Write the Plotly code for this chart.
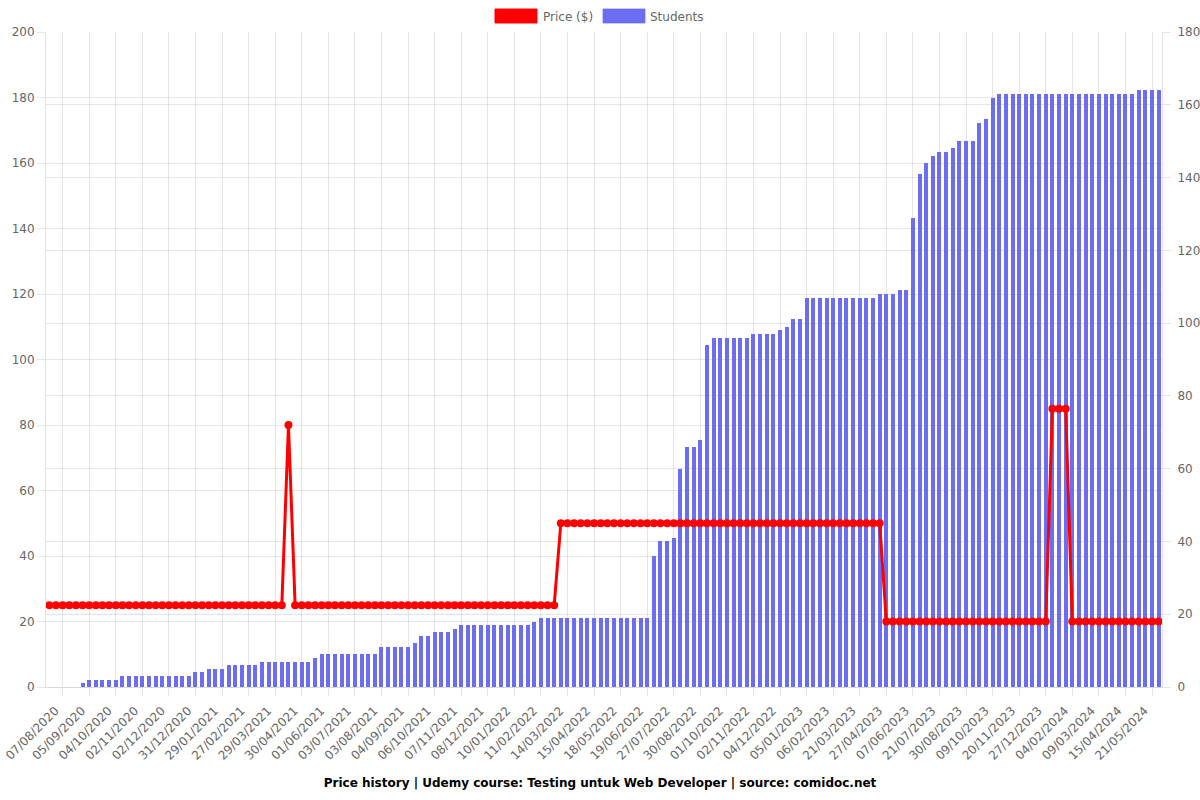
import plotly.graph_objects as go

# ---- data ----
tick_labels = [
    "07/08/2020", "05/09/2020", "04/10/2020", "02/11/2020", "02/12/2020", "31/12/2020",
    "29/01/2021", "27/02/2021", "29/03/2021", "30/04/2021", "01/06/2021", "03/07/2021",
    "03/08/2021", "04/09/2021", "06/10/2021", "07/11/2021", "08/12/2021", "10/01/2022",
    "11/02/2022", "14/03/2022", "15/04/2022", "18/05/2022", "19/06/2022", "27/07/2022",
    "30/08/2022", "01/10/2022", "02/11/2022", "04/12/2022", "05/01/2023", "06/02/2023",
    "21/03/2023", "27/04/2023", "07/06/2023", "21/07/2023", "30/08/2023", "09/10/2023",
    "20/11/2023", "27/12/2023", "04/02/2024", "09/03/2024", "15/04/2024", "21/05/2024",
]

price = [
    25, 25, 25, 25, 25, 25, 25, 25, 25, 25,
    25, 25, 25, 25, 25, 25, 25, 25, 25, 25,
    25, 25, 25, 25, 25, 25, 25, 25, 25, 25,
    25, 25, 25, 25, 25, 25, 80, 25, 25, 25,
    25, 25, 25, 25, 25, 25, 25, 25, 25, 25,
    25, 25, 25, 25, 25, 25, 25, 25, 25, 25,
    25, 25, 25, 25, 25, 25, 25, 25, 25, 25,
    25, 25, 25, 25, 25, 25, 25, 50, 50, 50,
    50, 50, 50, 50, 50, 50, 50, 50, 50, 50,
    50, 50, 50, 50, 50, 50, 50, 50, 50, 50,
    50, 50, 50, 50, 50, 50, 50, 50, 50, 50,
    50, 50, 50, 50, 50, 50, 50, 50, 50, 50,
    50, 50, 50, 50, 50, 50, 20, 20, 20, 20,
    20, 20, 20, 20, 20, 20, 20, 20, 20, 20,
    20, 20, 20, 20, 20, 20, 20, 20, 20, 20,
    20, 85, 85, 85, 20, 20, 20, 20, 20, 20,
    20, 20, 20, 20, 20, 20, 20, 20,
]

students = [
    0, 0, 0, 0, 0, 1, 2, 2, 2, 2,
    2, 3, 3, 3, 3, 3, 3, 3, 3, 3,
    3, 3, 4, 4, 5, 5, 5, 6, 6, 6,
    6, 6, 7, 7, 7, 7, 7, 7, 7, 7,
    8, 9, 9, 9, 9, 9, 9, 9, 9, 9,
    11, 11, 11, 11, 11, 12, 14, 14, 15, 15,
    15, 16, 17, 17, 17, 17, 17, 17, 17, 17,
    17, 17, 17, 18, 19, 19, 19, 19, 19, 19,
    19, 19, 19, 19, 19, 19, 19, 19, 19, 19,
    19, 36, 40, 40, 41, 60, 66, 66, 68, 94,
    96, 96, 96, 96, 96, 96, 97, 97, 97, 97,
    98, 99, 101, 101, 107, 107, 107, 107, 107, 107,
    107, 107, 107, 107, 107, 108, 108, 108, 109, 109,
    129, 141, 144, 146, 147, 147, 148, 150, 150, 150,
    155, 156, 162, 163, 163, 163, 163, 163, 163, 163,
    163, 163, 163, 163, 163, 163, 163, 163, 163, 163,
    163, 163, 163, 163, 164, 164, 164, 164,
]

n = len(students)
xs = list(range(n))
tick_pos = list(range(0, n, 4))[:len(tick_labels)]

GRID = "rgba(0,0,0,0.1)"
FONT = "DejaVu Sans"
BLUE = "rgba(99,102,241,0.95)"
RED = "#ff0000"

fig = go.Figure()
fig.add_trace(go.Bar(
    x=xs, y=students, name="Students", yaxis="y",
    width=0.6,
    marker=dict(color=BLUE, line=dict(width=0)),
    showlegend=False,
))
fig.add_trace(go.Scatter(
    x=xs, y=price, name="Price ($)", yaxis="y2", mode="lines+markers",
    line=dict(color=RED, width=3),
    marker=dict(color=RED, size=8),
    showlegend=False,
))

# manual legend (wide boxes like the reference)
L, R, T, B = 46, 1162, 32, 687
W, H = R - L, B - T
def px(x):
    return (x - L) / W
def py(y):
    return (B - y) / H

shapes = [
    dict(type="rect", xref="paper", yref="paper", x0=px(495), x1=px(537), y0=py(23), y1=py(9),
         fillcolor=RED, line=dict(color=RED, width=1)),
    dict(type="rect", xref="paper", yref="paper", x0=px(603), x1=px(645), y0=py(23), y1=py(9),
         fillcolor="rgba(99,102,241,0.95)", line=dict(color="rgba(99,102,241,0.7)", width=1)),
]
annotations = [
    dict(text="Price ($)", xref="paper", yref="paper", x=px(541), y=py(16.5), xanchor="left",
         yanchor="middle", showarrow=False, font=dict(family=FONT, size=12, color="#666")),
    dict(text="Students", xref="paper", yref="paper", x=px(648), y=py(16.5), xanchor="left",
         yanchor="middle", showarrow=False, font=dict(family=FONT, size=12, color="#666")),
]

fig.update_layout(
    width=1200, height=800,
    margin=dict(l=L, r=1200 - R, t=T, b=800 - B, autoexpand=False),
    plot_bgcolor="white", paper_bgcolor="white",
    font=dict(family=FONT, size=12, color="#666"),
    bargap=0,
    shapes=shapes,
    annotations=annotations,
    title=dict(
        text="<b>Price history | Udemy course: Testing untuk Web Developer | source: comidoc.net</b>",
        x=0.5, xanchor="center", xref="container",
        y=1 - 783 / 800, yanchor="middle", yref="container",
        font=dict(family=FONT, size=12, color="#000"),
    ),
    xaxis=dict(
        range=[-0.5, n - 0.5], automargin=False,
        tickmode="array", tickvals=tick_pos, ticktext=tick_labels,
        tickangle=-45, tickfont=dict(size=12, color="#666"),
        ticklabeloverflow="allow", ticklabelstandoff=11, ticklabelshift=6,
        showgrid=False, ticks="", zeroline=False,
        showline=True, linecolor="rgba(0,0,0,0.15)", linewidth=1,
        minor=dict(tick0=2, dtick=4, showgrid=True, gridcolor=GRID, gridwidth=1,
                   ticks="outside", ticklen=8, tickcolor=GRID),
    ),
    yaxis=dict(
        side="right", range=[0, 180], dtick=20, automargin=False,
        showgrid=True, gridcolor=GRID, zeroline=False,
        ticks="outside", ticklen=8, tickcolor=GRID, ticklabelstandoff=4,
        showline=True, linecolor="rgba(0,0,0,0.1)",
        tickfont=dict(size=12, color="#666"),
    ),
    yaxis2=dict(
        overlaying="y", side="left", range=[0, 200], dtick=20, automargin=False,
        showgrid=True, gridcolor=GRID, zeroline=False,
        ticks="outside", ticklen=8, tickcolor=GRID,
        showline=True, linecolor="rgba(0,0,0,0.1)",
        tickfont=dict(size=12, color="#666"),
    ),
)

fig.write_html("out.html")
